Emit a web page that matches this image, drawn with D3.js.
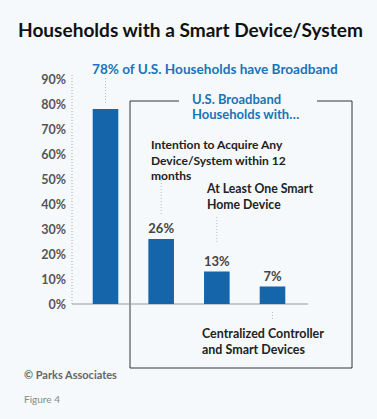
<!DOCTYPE html>
<html>
<head>
<meta charset="utf-8">
<script src="https://cdn.jsdelivr.net/npm/d3@7"></script>
<style>
  html, body { margin: 0; padding: 0; background: #f5f9fc; }
  svg { display: block; }
  text { font-family: Lato, "Noto Sans", sans-serif; }
</style>
</head>
<body>
<svg id="chart" width="377" height="419"></svg>
<script>
const categories = ["Broadband", "Intention", "AtLeastOne", "Centralized"];
const values = [78, 26, 13, 7];
const valueLabels = ["", "26%", "13%", "7%"];
const yTicks = [0, 10, 20, 30, 40, 50, 60, 70, 80, 90];
const titleText = "Households with a Smart Device/System";
const broadbandNote = "78% of U.S. Households have Broadband";
const boxTitle = ["U.S. Broadband", "Households with…"];
const catLabels = [
  [],
  ["Intention to Acquire Any", "Device/System within 12", "months"],
  ["At Least One Smart", "Home Device"],
  ["Centralized Controller", "and Smart Devices"]
];
const sourceText = "© Parks Associates";
const figureText = "Figure 4";

const svg = d3.select("#chart");
const blue = "#1565ab";
const textBlue = "#1b73b8";
const dark = "#222";

// helper: a block of lines sized uniformly so its longest line matches the target width
function textBlock(sel, x, y, lines, w, lh, opts) {
  const ts = lines.map((s, j) => sel.append("text").attr("x", x).attr("y", y + j * lh).text(s)
    .attr("font-size", opts.size).attr("font-weight", opts.weight || 700)
    .attr("fill", opts.fill || dark));
  const nat = d3.max(ts, t => t.node().getComputedTextLength());
  const s = Math.min(opts.size * w / nat, opts.max || opts.size);
  ts.forEach(t => t.attr("font-size", s));
  return ts;
}

// background
svg.append("rect").attr("width", 377).attr("height", 419).attr("fill", "#f5f9fc");

// title
textBlock(svg, 18, 37, [titleText], 345, 0, {size: 20, fill: "#111", max: 21});

// scales
const y = d3.scaleLinear().domain([0, 90]).range([304, 79]);
const x = d3.scaleBand().domain(categories).range([76, 302]).paddingInner(0.54).paddingOuter(0.3);

// y axis labels
const yAxis = d3.axisLeft(y).tickValues(yTicks).tickFormat(d => d + "%").tickSize(0).tickPadding(6);
const yg = svg.append("g").attr("transform", "translate(72,0)").call(yAxis);
yg.select(".domain").remove();
yg.selectAll("text").attr("font-size", 12.5).attr("font-weight", 700).attr("fill", "#555")
  .attr("font-family", "Lato, 'Noto Sans', sans-serif");

// dotted y axis line
svg.append("line").attr("x1", 72).attr("x2", 72).attr("y1", y(90) - 4).attr("y2", y(0))
  .attr("stroke", "#aaa").attr("stroke-width", 1).attr("stroke-dasharray", "1,2");

// box
const boxL = 130, boxR = 352, boxT = 101, boxB = 368;
svg.append("path")
  .attr("d", `M179,${boxT} H${boxL} V${boxB} H${boxR} V${boxT} H317`)
  .attr("fill", "none").attr("stroke", "#333").attr("stroke-width", 1);

// baseline
svg.append("line").attr("x1", 72).attr("x2", 308).attr("y1", y(0)).attr("y2", y(0))
  .attr("stroke", "#999").attr("stroke-width", 1);

// bars
svg.selectAll("rect.bar").data(values).enter().append("rect").attr("class", "bar")
  .attr("x", (d, i) => x(categories[i]))
  .attr("width", x.bandwidth())
  .attr("y", d => y(d))
  .attr("height", d => y(0) - y(d))
  .attr("fill", blue);

// value labels
values.forEach((v, i) => {
  if (!valueLabels[i]) return;
  svg.append("text").attr("x", x(categories[i]) + x.bandwidth() / 2).attr("y", y(v) - 6)
    .attr("text-anchor", "middle").attr("font-size", 13).attr("font-weight", 700)
    .attr("fill", "#444").text(valueLabels[i]);
});

// dotted connectors
const cx = i => x(categories[i]) + x.bandwidth() / 2;
const connectors = [
  [cx(0), 78, 104],
  [cx(1), 180, 214],
  [cx(2), 217, 243],
  [cx(3), 312, 319]
];
connectors.forEach(c => {
  svg.append("line").attr("x1", c[0]).attr("x2", c[0]).attr("y1", c[1]).attr("y2", c[2])
    .attr("stroke", "#bbb").attr("stroke-width", 1).attr("stroke-dasharray", "1,2");
});

// broadband note
textBlock(svg, 92, 74, [broadbandNote], 246, 0, {size: 13.5, fill: textBlue, max: 14});

// box title
textBlock(svg, 192, 104, boxTitle, 116, 15, {size: 13, fill: textBlue, max: 13});

// category labels
const catPos = [null, [151, 149, 135], [207, 193, 106], [202, 338, 122]];
catLabels.forEach((lines, i) => {
  if (!lines.length) return;
  const p = catPos[i];
  textBlock(svg, p[0], p[1], lines, p[2], 15.5, {size: 12.5, fill: dark, max: 13});
});

// source
textBlock(svg, 24, 379, [sourceText], 93, 0, {size: 11.5, fill: "#666", max: 12});
textBlock(svg, 24, 403, [figureText], 36, 0, {size: 11, weight: 400, fill: "#888", max: 11});
</script>
</body>
</html>
